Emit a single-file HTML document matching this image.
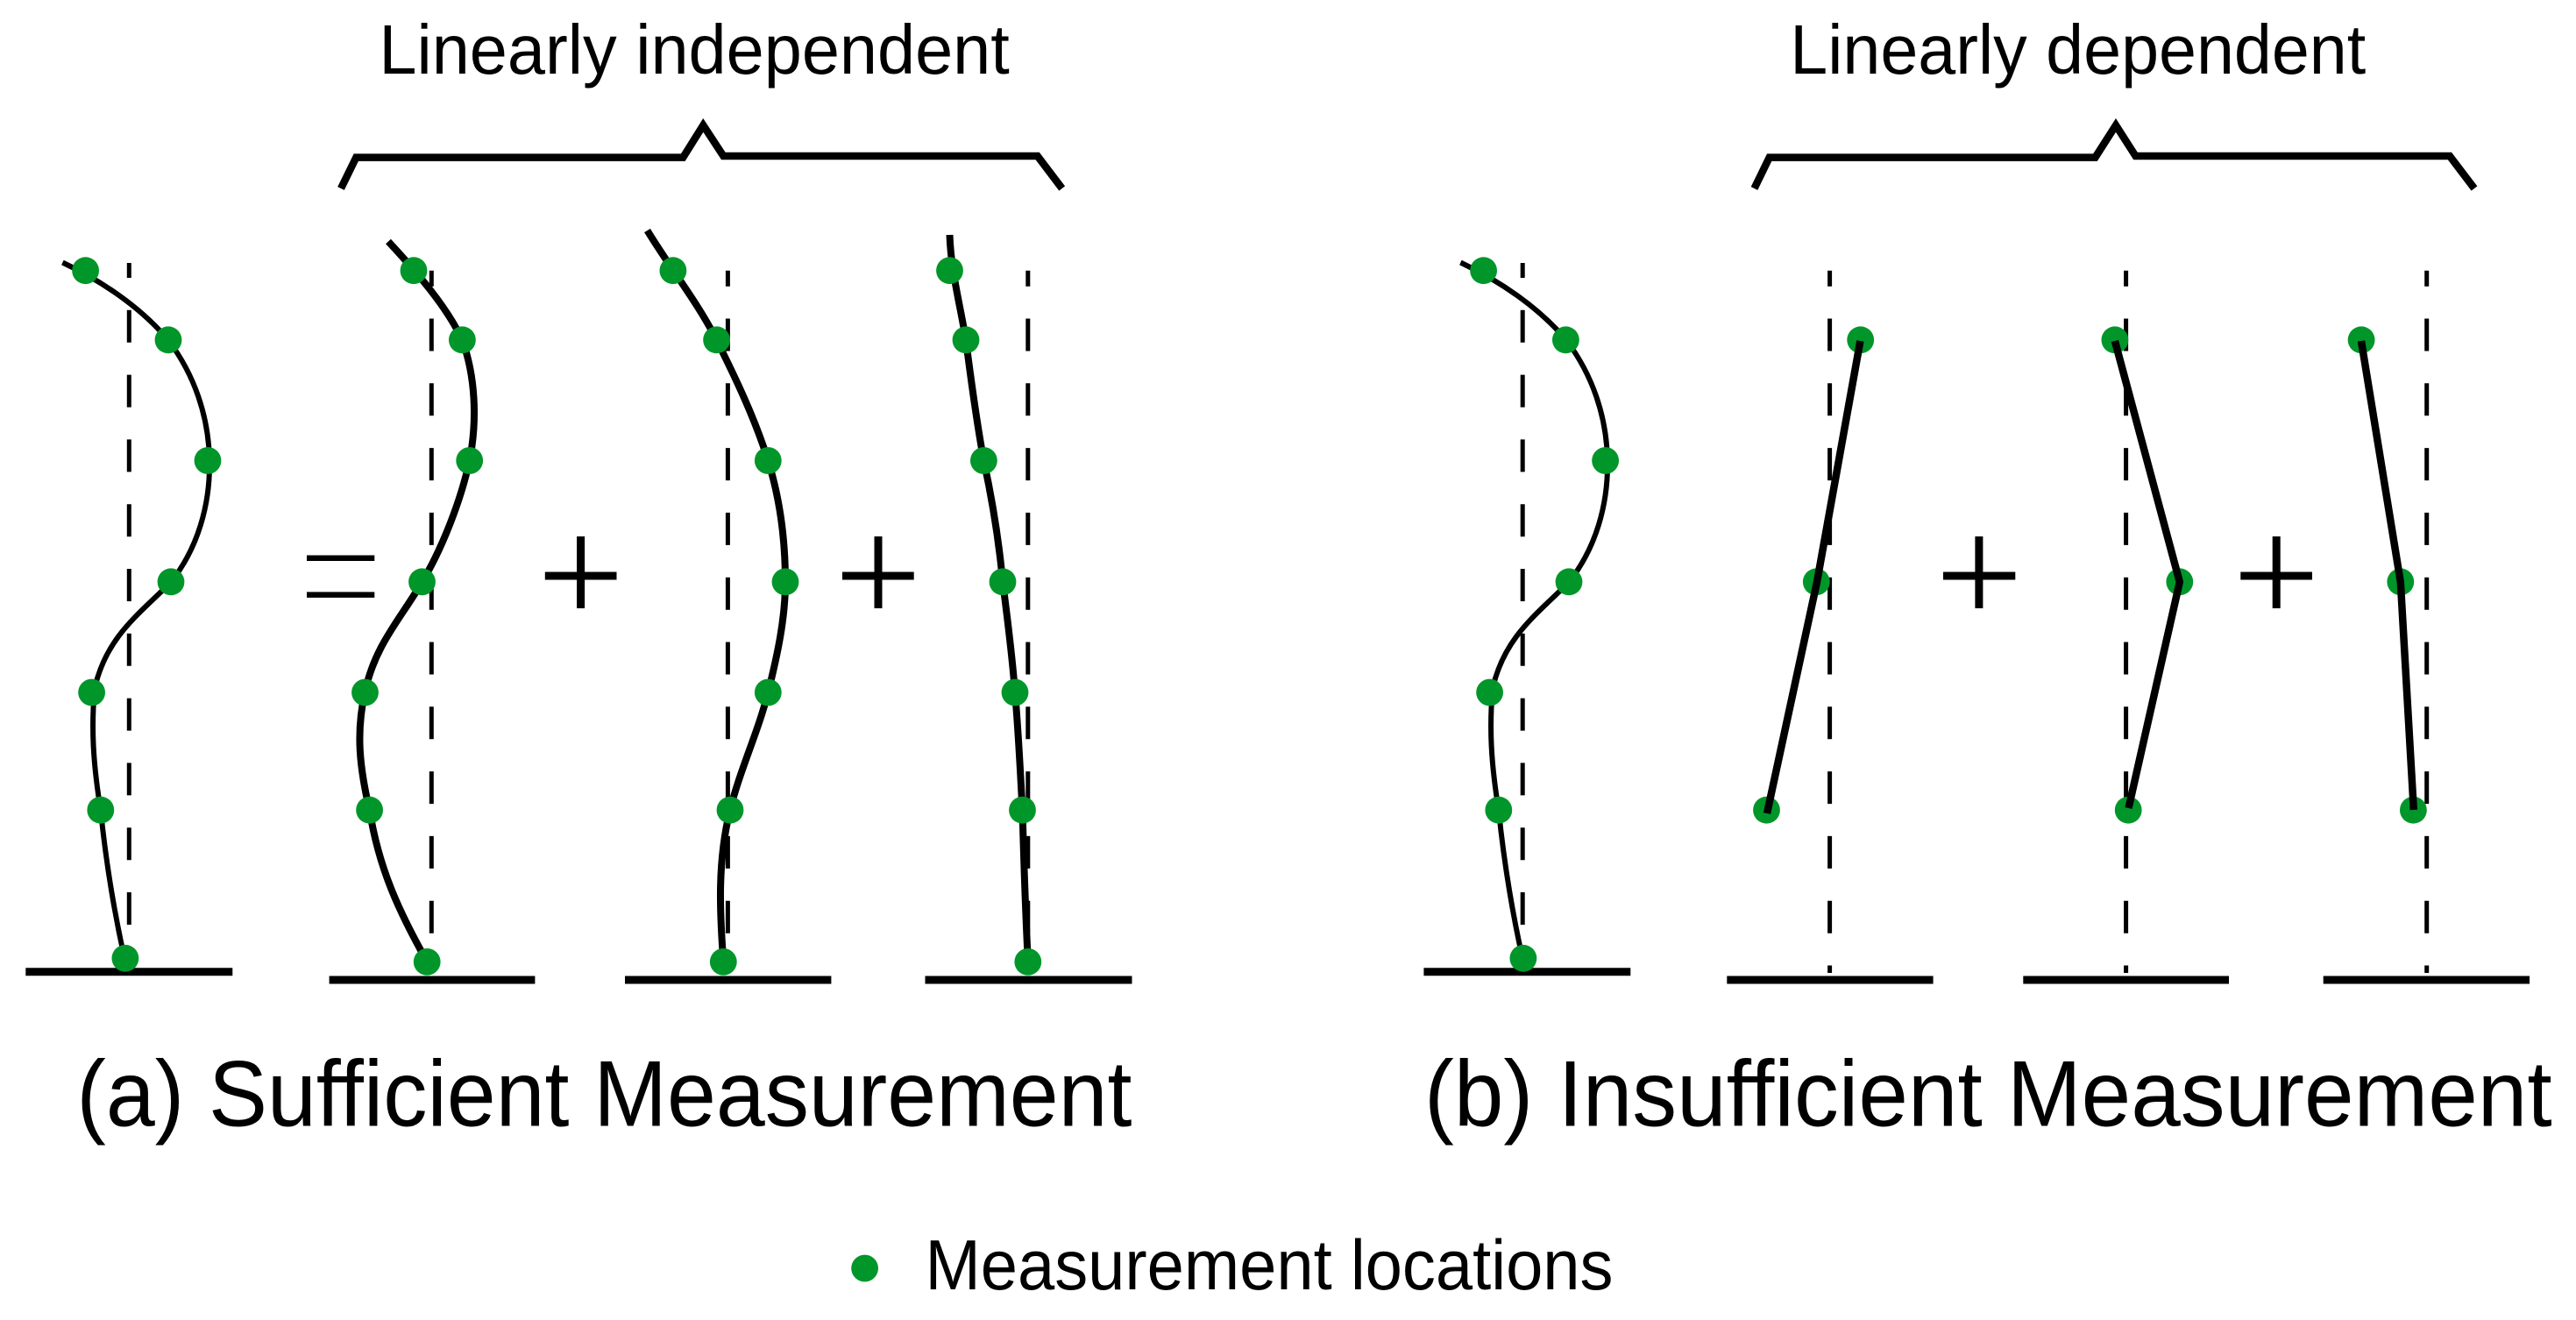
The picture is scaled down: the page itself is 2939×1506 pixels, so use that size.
<!DOCTYPE html>
<html>
<head>
<meta charset="utf-8">
<style>
html,body{margin:0;padding:0;background:#fff;}
svg{display:block;}
text{font-family:"Liberation Sans",sans-serif;fill:#000;}
.d{stroke:#000;stroke-width:5;fill:none;stroke-dasharray:37 36.8;}
.b{stroke:#000;stroke-width:9;fill:none;}
.c{stroke:#000;fill:none;stroke-linecap:butt;stroke-linejoin:round;}
.k{stroke:#000;stroke-width:8.5;fill:none;stroke-linejoin:miter;}
.p{stroke:#000;fill:none;}
circle{fill:#00962a;}
</style>
</head>
<body>
<svg width="2939" height="1506" viewBox="0 0 2939 1506" xmlns="http://www.w3.org/2000/svg">
<rect width="2939" height="1506" fill="#fff"/>

<!-- brackets -->
<path class="k" d="M389,215 L406.3,179.6 L779.3,179.6 L802.3,142.9 L825.3,178 L1183.7,178 L1211.7,215"/>
<path class="k" d="M2001.5,215 L2018.7,179.6 L2390.5,179.6 L2414,142.9 L2436.5,178 L2794.9,178 L2823,215"/>

<text x="432.4" y="84" font-size="80" textLength="719.4" lengthAdjust="spacingAndGlyphs">Linearly independent</text>
<text x="2042.3" y="84" font-size="80" textLength="656.9" lengthAdjust="spacingAndGlyphs">Linearly dependent</text>

<!-- dashed verticals -->
<path class="d" style="stroke-dashoffset:20" d="M147.3,300 V1055"/>
<path class="d" style="stroke-dashoffset:19" d="M492.3,308.7 V1110"/>
<path class="d" style="stroke-dashoffset:19" d="M830.4,308.7 V1110"/>
<path class="d" style="stroke-dashoffset:19" d="M1172.8,308.7 V1110"/>
<path class="d" style="stroke-dashoffset:20" d="M1737.2,300 V1055"/>
<path class="d" style="stroke-dashoffset:19" d="M2087.6,308.7 V1110"/>
<path class="d" style="stroke-dashoffset:19" d="M2425.6,308.7 V1110"/>
<path class="d" style="stroke-dashoffset:19" d="M2768.7,308.7 V1110"/>

<!-- baselines -->
<path class="b" d="M29.3,1108.7 H265.3"/>
<path class="b" d="M375.6,1118 H610.4"/>
<path class="b" d="M713,1118 H948.4"/>
<path class="b" d="M1055.5,1118 H1291.5"/>
<path class="b" d="M1624.4,1108.7 H1860.3"/>
<path class="b" d="M1970.3,1118 H2205.6"/>
<path class="b" d="M2308.3,1118 H2543"/>
<path class="b" d="M2650.7,1118 H2886"/>

<!-- curves -->
<path class="c" stroke-width="6" d="M71.4,299.5 C115,320 160,350 192,388 C222,428 238,475 239,525 C240,575 226,625 195,664 C160,700 122,725 108,785 C104,830 106,870 114.8,924 C120,975 128,1030 142,1093"/>
<path class="c" stroke-width="8" d="M443,275.5 C475,310 510,350 527.4,388 C542,428 545,478 535.7,525.5 C526,570 505,625 481.5,664 C458,705 428,735 416.5,789 C406,835 410,875 421.6,924 C432,990 455,1040 487.2,1097"/>
<path class="c" stroke-width="8" d="M738.5,263 C764,305 796.6,346 817.6,388 C840.6,434 862,479.5 876.3,525.5 C890.6,571.5 896,618 896,664 C896,706 886.8,748 876.3,790 C865,835 844,879 833,924 C818.5,982 821,1039 825.3,1097"/>
<path class="c" stroke-width="8" d="M1083.5,268 C1085,310 1095,345 1102,388 C1108,435 1114,480 1122.4,525.5 C1132,570 1140,620 1144,664 C1150,710 1155,750 1158,790 C1162,835 1164,880 1166.5,924 C1168,980 1170,1040 1172.8,1097"/>
<path class="c" stroke-width="6" d="M1666.4,299.5 C1710,320 1755,350 1787,388 C1817,428 1833,475 1834,525 C1835,575 1821,625 1790,664 C1755,700 1717,725 1703,785 C1699,830 1701,870 1709.8,924 C1715,975 1723,1030 1737,1093"/>

<!-- dots -->
<g>
<circle cx="97.6" cy="308.7" r="15.4"/><circle cx="192" cy="387.8" r="15.4"/><circle cx="237" cy="525.5" r="15.4"/><circle cx="195" cy="663.8" r="15.4"/><circle cx="104.6" cy="790" r="15.4"/><circle cx="114.8" cy="924.2" r="15.4"/><circle cx="142.9" cy="1093.3" r="15.4"/>
<circle cx="472" cy="308.7" r="15.4"/><circle cx="527.4" cy="387.8" r="15.4"/><circle cx="535.7" cy="525.5" r="15.4"/><circle cx="481.5" cy="663.8" r="15.4"/><circle cx="416.5" cy="790" r="15.4"/><circle cx="421.6" cy="924.2" r="15.4"/><circle cx="487.2" cy="1097.4" r="15.4"/>
<circle cx="767.9" cy="308.7" r="15.4"/><circle cx="817.6" cy="387.8" r="15.4"/><circle cx="876.3" cy="525.5" r="15.4"/><circle cx="896" cy="663.8" r="15.4"/><circle cx="876.3" cy="790" r="15.4"/><circle cx="833" cy="924.2" r="15.4"/><circle cx="825.3" cy="1097.4" r="15.4"/>
<circle cx="1083.5" cy="308.7" r="15.4"/><circle cx="1102" cy="387.8" r="15.4"/><circle cx="1122.4" cy="525.5" r="15.4"/><circle cx="1144" cy="663.8" r="15.4"/><circle cx="1158" cy="790" r="15.4"/><circle cx="1166.5" cy="924.2" r="15.4"/><circle cx="1172.8" cy="1097.4" r="15.4"/>
<circle cx="1692.6" cy="308.7" r="15.4"/><circle cx="1786.4" cy="387.8" r="15.4"/><circle cx="1831.6" cy="525.5" r="15.4"/><circle cx="1790" cy="663.8" r="15.4"/><circle cx="1699.6" cy="790" r="15.4"/><circle cx="1709.8" cy="924.2" r="15.4"/><circle cx="1737.9" cy="1093.3" r="15.4"/>
<circle cx="2122.7" cy="387.8" r="15.4"/><circle cx="2072.3" cy="663.8" r="15.4"/><circle cx="2015.5" cy="924.2" r="15.4"/>
<circle cx="2412.9" cy="387.8" r="15.4"/><circle cx="2486.8" cy="663.8" r="15.4"/><circle cx="2428.2" cy="924.2" r="15.4"/>
<circle cx="2694.1" cy="387.8" r="15.4"/><circle cx="2738.8" cy="663.8" r="15.4"/><circle cx="2753.4" cy="924.2" r="15.4"/>
<circle cx="986.6" cy="1447" r="15.4"/>
</g>

<!-- straight segments over dots -->
<path class="c" stroke-width="8.5" d="M2122.4,389 L2073,664 L2016,928"/>
<path class="c" stroke-width="8.5" d="M2412.9,389 L2486.8,664 L2428.5,922"/>
<path class="c" stroke-width="8.5" d="M2694,389 L2738.8,664 L2753.8,924"/>

<!-- equals and plus -->
<path class="p" stroke-width="6.5" d="M350,636.7 H427.3 M350,678.6 H427.3"/>
<path class="p" stroke-width="9" d="M621.8,657 H703.5 M662.6,612 V694"/>
<path class="p" stroke-width="9" d="M961,657 H1042.7 M1002,612 V694"/>
<path class="p" stroke-width="9" d="M2217,657 H2299.3 M2257.9,612 V694"/>
<path class="p" stroke-width="9" d="M2556.3,657 H2638 M2597.2,612 V694"/>

<!-- captions -->
<text x="87.4" y="1284.6" font-size="107" textLength="1204" lengthAdjust="spacingAndGlyphs">(a) Sufficient Measurement</text>
<text x="1625" y="1284.6" font-size="107" textLength="1286.6" lengthAdjust="spacingAndGlyphs">(b) Insufficient Measurement</text>
<text x="1055.5" y="1471" font-size="80.5" textLength="785" lengthAdjust="spacingAndGlyphs">Measurement locations</text>
</svg>
</body>
</html>
